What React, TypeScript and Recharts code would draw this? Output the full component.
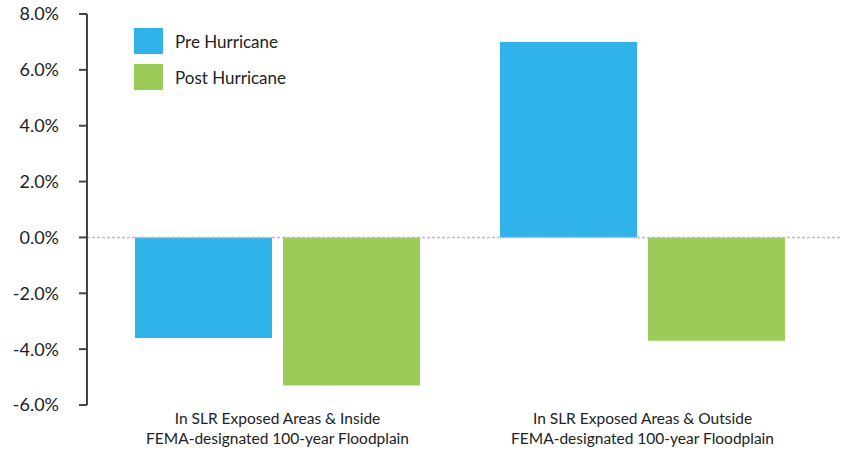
import { BarChart, Bar, XAxis, YAxis, ReferenceLine } from 'recharts';

const categories = [
  ['In SLR Exposed Areas & Inside', 'FEMA-designated 100-year Floodplain'],
  ['In SLR Exposed Areas & Outside', 'FEMA-designated 100-year Floodplain'],
];
const preHurricane = [-3.6, 7.0];
const postHurricane = [-5.3, -3.7];
const yTicks = [-6, -4, -2, 0, 2, 4, 6, 8];

const PRE_COLOR = '#2fb3e8';
const POST_COLOR = '#9ccb5a';
const FONT = 'Lato, "Open Sans", sans-serif';

const series = [
  { key: 'pre', label: 'Pre Hurricane', color: PRE_COLOR },
  { key: 'post', label: 'Post Hurricane', color: POST_COLOR },
];

const data = categories.map((lines, i) => ({
  name: lines.join('\n'),
  pre: preHurricane[i],
  post: postHurricane[i],
}));

function CategoryTick({ x, y, payload }: any) {
  const lines = String(payload.value).split('\n');
  return (
    <g transform={`translate(${x},${y})`}>
      {lines.map((line, i) => (
        <text
          key={i}
          x={0}
          y={11 + i * 19.5}
          textAnchor="middle"
          fontFamily={FONT}
          fontSize={15.5}
          fill="#222"
        >
          {line}
        </text>
      ))}
    </g>
  );
}

// legend sits over the plot, top-left, outside the chart's layout math
function LegendBox() {
  return (
    <div
      style={{
        position: 'absolute',
        left: 134,
        top: 28,
        fontFamily: FONT,
        fontSize: 17,
        color: '#222',
      }}
    >
      {series.map((item) => (
        <div key={item.key} style={{ display: 'flex', alignItems: 'center', height: 26, marginBottom: 10 }}>
          <span style={{ width: 29, height: 26, background: item.color, display: 'inline-block' }} />
          <span style={{ marginLeft: 12 }}>{item.label}</span>
        </div>
      ))}
    </div>
  );
}

export default function App() {
  return (
    <div style={{ position: 'absolute', left: 0, top: 0, width: 841, height: 450, background: '#fff' }}>
      <BarChart
        width={841}
        height={450}
        data={data}
        margin={{ top: 14, right: 0, bottom: 0, left: 0 }}
        barSize={137}
        barGap={11}
      >
        <XAxis
          dataKey="name"
          axisLine={false}
          tickLine={false}
          tick={<CategoryTick />}
          height={45}
          interval={0}
          padding={{ left: 8, right: 16 }}
        />
        <YAxis
          domain={[-6, 8]}
          ticks={yTicks}
          width={87}
          tickFormatter={(v: number) => `${v.toFixed(1)}%`}
          tick={{ fontFamily: FONT, fontSize: 18, fill: '#222' }}
          axisLine={{ stroke: '#444', strokeWidth: 2 }}
          tickLine={{ stroke: '#444', strokeWidth: 2 }}
          tickSize={8}
          tickMargin={20}
        />
        <ReferenceLine y={0} stroke="#bbb" strokeWidth={1.5} strokeDasharray="3 2" />
        {series.map((s) => (
          <Bar key={s.key} dataKey={s.key} name={s.label} fill={s.color} isAnimationActive={false} />
        ))}
      </BarChart>
      <LegendBox />
    </div>
  );
}
